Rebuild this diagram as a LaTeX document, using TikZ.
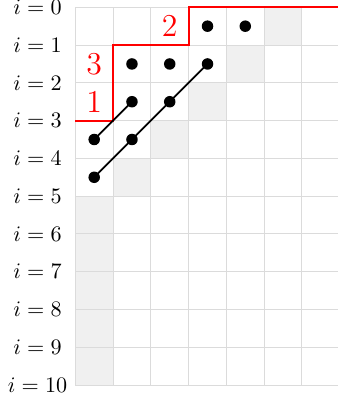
\documentclass[tikz,border=0pt]{standalone}
\begin{document}
\begin{tikzpicture}[x=0.6cm,y=0.6cm,
  gridline/.style={draw=black!14,line width=0.4pt},
  shade/.style={fill=black!6},
  redline/.style={draw=red,line width=0.9pt},
  rednum/.style={text=red,font=\Large},
  dot/.style={circle,fill=black,inner sep=0pt,minimum size=5.2pt},
  link/.style={draw=black,line width=0.8pt},
  rowlab/.style={font=\normalsize}]
\useasboundingbox (-1.994,0.193) rectangle (6.929,-10.450);
% shaded cells
\fill[shade] (5,0) rectangle (6,-1);
\fill[shade] (4,-1) rectangle (5,-2);
\fill[shade] (3,-2) rectangle (4,-3);
\fill[shade] (2,-3) rectangle (3,-4);
\fill[shade] (1,-4) rectangle (2,-5);
\fill[shade] (0,-5) rectangle (1,-10);
% grid
\foreach \c in {0,...,7} \draw[gridline] (\c,0) -- (\c,-10);
\foreach \r in {0,...,10} \draw[gridline] (0,-\r) -- (7,-\r);
% row labels
\foreach \i in {0,...,10}
  \node[rowlab] (lab\i) at (-1,-\i) {$i=\i$};
% red staircase
\coordinate (r0) at (0,-3);
\coordinate (r1) at (1,-3);
\coordinate (r2) at (1,-1);
\coordinate (r3) at (3,-1);
\coordinate (r4) at (3,0);
\coordinate (r5) at (7,0);
\draw[redline] (r0) -- (r1) -- (r2) -- (r3) -- (r4) -- (r5);
\node[rednum] (n2) at (2.5,-0.5) {2};
\node[rednum] (n3) at (0.5,-1.5) {3};
\node[rednum] (n1) at (0.5,-2.5) {1};
% dots
\node[dot] (d03) at (3.5,-0.5) {};
\node[dot] (d04) at (4.5,-0.5) {};
\node[dot] (d11) at (1.5,-1.5) {};
\node[dot] (d12) at (2.5,-1.5) {};
\node[dot] (d13) at (3.5,-1.5) {};
\node[dot] (d21) at (1.5,-2.5) {};
\node[dot] (d22) at (2.5,-2.5) {};
\node[dot] (d30) at (0.5,-3.5) {};
\node[dot] (d31) at (1.5,-3.5) {};
\node[dot] (d40) at (0.5,-4.5) {};
% links
\draw[link] (d30.center) -- (d21.center);
\draw[link] (d40.center) -- (d31.center) -- (d22.center) -- (d13.center);
\end{tikzpicture}
\end{document}
